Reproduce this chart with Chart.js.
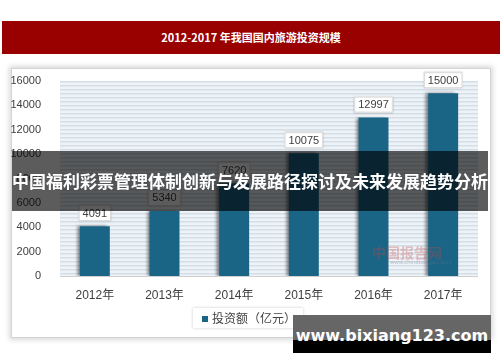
<!DOCTYPE html>
<html>
<head>
<meta charset="utf-8">
<script src="https://cdn.jsdelivr.net/npm/chart.js@4"></script>
<style>
  body { margin: 0; width: 500px; height: 362px; position: relative; background: #fff; overflow: hidden;
         font-family: "Liberation Sans", "Noto Sans CJK SC", sans-serif; }
  #banner { position: absolute; left: 2px; top: 21px; width: 498px; height: 33px; background: #990000;
            color: #fff; font: bold 11px "Noto Sans CJK SC", sans-serif; text-align: center; line-height: 33px; }
  #box { position: absolute; left: 11px; top: 68px; width: 478px; height: 268px; border: 1px solid #d4d4d4;
         box-shadow: 0 0 5px 2px rgba(0,0,0,0.15); background: #fff; }
  canvas { position: absolute; left: 0; top: 0; }
  #legend { position: absolute; left: 193px; top: 308px; width: 110px; height: 20px; background: #fff;
            box-shadow: 0 0 3px rgba(0,0,0,0.2); font: 12px "Noto Sans CJK SC", sans-serif; color: #444;
            line-height: 20px; white-space: nowrap; }
  #legend span.sq { display: inline-block; width: 6px; height: 6px; background: #1a6585; margin: 0 4px 1px 9px; }
  #wm { position: absolute; left: 372px; top: 242px; color: rgba(200,70,70,0.3); font: bold 14px "Noto Sans CJK SC", sans-serif; }
  #wm small { display: block; font: 6px "Liberation Sans", sans-serif; color: rgba(120,120,140,0.4); margin-left: 18px; margin-top: -3px; }
  #overlay { position: absolute; left: 12px; top: 151px; width: 476px; height: 60px; background: rgba(0,0,0,0.64);
             color: #fff; font: bold 17px "Noto Sans CJK SC", sans-serif; text-align: center; line-height: 60px; white-space: nowrap; }
  #site { position: absolute; left: 293px; top: 315px; width: 198px; height: 38px;
          background: linear-gradient(#666 0, #666 25px, #000 25px); color: #fff;
          font: bold 16px "DejaVu Sans", sans-serif; text-align: center; line-height: 42px; }
</style>
</head>
<body>
<div id="banner">2012-2017 年我国国内旅游投资规模</div>
<div id="box"></div>
<canvas id="miGrafico" width="500" height="362"></canvas>
<div id="wm">中国报告网<small>www.chinabaogao.com</small></div>
<div id="legend"><span class="sq"></span><span id="legendText"></span></div>
<div id="overlay">中国福利彩票管理体制创新与发展路径探讨及未来发展趋势分析</div>
<div id="site">www.bixiang123.com</div>
<script>
// Datos del grafico
const anios = ['2012年', '2013年', '2014年', '2015年', '2016年', '2017年'];
const inversion = [4091, 5340, 7620, 10075, 12997, 15000];
const nombreSerie = '投资额（亿元）';
const ticksY = [0, 2000, 4000, 6000, 8000, 10000, 12000, 14000, 16000];

document.getElementById('legendText').textContent = nombreSerie;

// Fondo con rayas horizontales dentro del area
const fondoRayas = {
    id: 'fondoRayas',
    beforeDraw(chart) {
        const a = chart.chartArea;
        const ctx = chart.ctx;
        ctx.save();
        ctx.fillStyle = '#eef3f7';
        ctx.fillRect(a.left, a.top, a.right - a.left, a.bottom - a.top);
        ctx.fillStyle = '#d3dee7';
        for (let y = a.top; y < a.bottom; y += 4) {
            ctx.fillRect(a.left, y, a.right - a.left, 1.5);
        }
        ctx.fillStyle = '#d0d0d0';
        ctx.fillRect(a.left, a.bottom, a.right - a.left, 1);
        ctx.restore();
    },
    beforeDatasetsDraw(chart) {
        const ctx = chart.ctx;
        ctx.save();
        ctx.shadowColor = 'rgba(0,0,0,0.45)';
        ctx.shadowOffsetX = -3;
        ctx.shadowOffsetY = 0;
        ctx.shadowBlur = 3;
    },
    afterDatasetsDraw(chart) {
        const ctx = chart.ctx;
        ctx.restore();
        // Etiquetas con caja encima de cada barra
        const meta = chart.getDatasetMeta(0);
        ctx.save();
        ctx.font = '11px "Liberation Sans", sans-serif';
        ctx.textAlign = 'center';
        ctx.textBaseline = 'middle';
        meta.data.forEach(function (bar, i) {
            const txt = String(inversion[i]);
            const w = ctx.measureText(txt).width + 8;
            const h = 16;
            const x = bar.x - w / 2;
            const y = bar.y - 5 - h;
            ctx.shadowColor = 'rgba(0,0,0,0.25)';
            ctx.shadowBlur = 2;
            ctx.fillStyle = '#fff';
            ctx.fillRect(x, y, w, h);
            ctx.shadowColor = 'transparent';
            ctx.strokeStyle = '#d8d8d8';
            ctx.lineWidth = 1;
            ctx.strokeRect(x + 0.5, y + 0.5, w - 1, h - 1);
            ctx.fillStyle = '#404040';
            ctx.fillText(txt, bar.x, y + h / 2 + 0.5);
        });
        ctx.restore();
    }
};

const ctx = document.getElementById('miGrafico').getContext('2d');
new Chart(ctx, {
    type: 'bar',
    data: {
        labels: anios,
        datasets: [{
            label: nombreSerie,
            data: inversion,
            backgroundColor: '#1a6585',
            barPercentage: 0.86,
            categoryPercentage: 0.5
        }]
    },
    options: {
        responsive: false,
        animation: false,
        layout: { padding: { left: 10, right: 22, top: 81, bottom: 0 } },
        plugins: { legend: { display: false }, tooltip: { enabled: false } },
        scales: {
            x: {
                grid: { display: false },
                border: { display: false },
                ticks: { color: '#404040', font: { size: 12, family: '"Liberation Sans", "Noto Sans CJK SC", sans-serif' }, padding: 4 },
                afterFit: function (s) { s.height = 86; }
            },
            y: {
                min: 0,
                max: 16000,
                afterBuildTicks: function (s) { s.ticks = ticksY.map(function (v) { return { value: v }; }); },
                grid: { display: false },
                border: { display: false },
                ticks: {
                    color: '#404040',
                    font: { size: 11, family: '"Liberation Sans", sans-serif' },
                    padding: 11,
                    callback: function (v) { return String(v); }
                },
                afterFit: function (s) { s.width = 50; }
            }
        }
    },
    plugins: [fondoRayas]
});
</script>
</body>
</html>
